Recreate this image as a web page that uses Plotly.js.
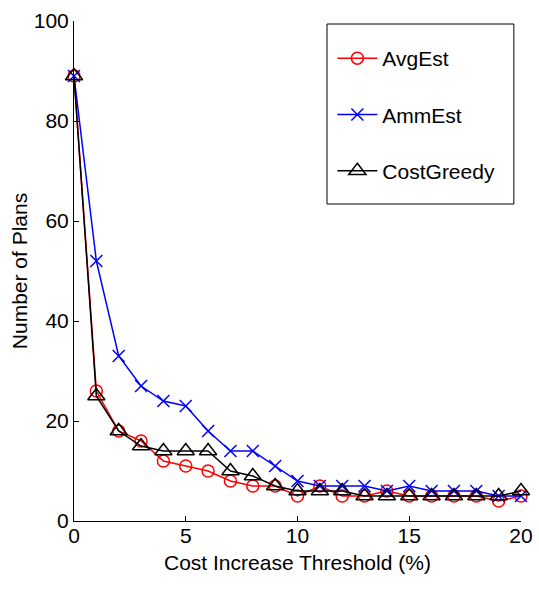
<!DOCTYPE html>
<html>
<head>
<meta charset="utf-8">
<script src="https://cdn.plot.ly/plotly-3.0.1.min.js"></script>
<style>body{margin:0;padding:0;background:#fff;} #chart{width:539px;height:590px;}</style>
</head>
<body>
<div id="chart"></div>
<script>
var thresholds = [0,1,2,3,4,5,6,7,8,9,10,11,12,13,14,15,16,17,18,19,20];
var avgEst     = [89,26,18,16,12,11,10,8,7,7,5,7,5,5,6,5,5,5,5,4,5];
var ammEst     = [89,52,33,27,24,23,18,14,14,11,8,7,7,7,6,7,6,6,6,5,5];
var costGreedy = [89,25,18,15,14,14,14,10,9,7,6,6,6,5,5,5,5,5,5,5,6];
var seriesNames = ['AvgEst','AmmEst','CostGreedy'];
var xTicks = [0,5,10,15,20];
var yTicks = [0,20,40,60,80,100];
var xTitle = 'Cost Increase Threshold (%)';
var yTitle = 'Number of Plans';

var FONT = '"Liberation Sans", Arial, Helvetica, sans-serif';

var traces = [
  {x: thresholds, y: avgEst, name: seriesNames[0], legendgroup: 'a', mode: 'lines+markers', cliponaxis: false,
   line: {color: '#ff0000', width: 1.5},
   marker: {symbol: 'circle-open', size: 12, color: '#ff0000', line: {width: 1.5, color: '#ff0000'}}},
  {x: thresholds, y: ammEst, name: seriesNames[1], legendgroup: 'b', mode: 'lines+markers', cliponaxis: false,
   line: {color: '#0000ff', width: 1.5},
   marker: {symbol: 'x-thin-open', size: 12, color: '#0000ff', line: {width: 1.5, color: '#0000ff'}}},
  {x: thresholds, y: costGreedy, name: seriesNames[2], legendgroup: 'c', mode: 'lines+markers', cliponaxis: false,
   line: {color: '#000000', width: 1.5},
   marker: {symbol: 'triangle-up-open', size: 15, color: '#000000', line: {width: 1.5, color: '#000000'}}}
];

var layout = {
  width: 539, height: 590,
  margin: {l: 74, r: 18, t: 21, b: 69},
  paper_bgcolor: '#fff', plot_bgcolor: '#fff',
  font: {family: FONT, size: 21, color: '#000'},
  showlegend: true,
  legend: {
    x: 0.578, y: 0.966, xanchor: 'left', yanchor: 'top',
    borderwidth: 0, bgcolor: 'rgba(0,0,0,0)',
    traceorder: 'grouped', tracegroupgap: 26, itemwidth: 40,
    font: {family: FONT, size: 21, color: '#000'}
  },
  shapes: [{
    type: 'rect', xref: 'paper', yref: 'paper',
    x0: 0.566, x1: 0.984, y0: 0.634, y1: 0.994,
    line: {color: '#000', width: 1}, fillcolor: '#fff', layer: 'below'
  }],
  annotations: [{
    text: xTitle, xref: 'paper', yref: 'paper', x: 0.5, y: -0.055,
    xanchor: 'center', yanchor: 'top', showarrow: false,
    font: {family: FONT, size: 21, color: '#000'}
  }],
  xaxis: {
    range: [0, 20], tickvals: xTicks, ticktext: xTicks.map(String),
    ticks: 'inside', ticklen: 5, tickcolor: '#000', tickwidth: 1,
    showline: true, linecolor: '#000', linewidth: 1, mirror: false,
    showgrid: false, zeroline: false, ticklabelstandoff: -4,
    tickfont: {family: FONT, size: 21}
  },
  yaxis: {
    range: [0, 100], tickvals: yTicks, ticktext: yTicks.map(String),
    ticks: 'inside', ticklen: 5, tickcolor: '#000', tickwidth: 1,
    showline: true, linecolor: '#000', linewidth: 1, mirror: false,
    showgrid: false, zeroline: false,
    tickfont: {family: FONT, size: 21},
    title: {text: yTitle, font: {family: FONT, size: 21}, standoff: 0}
  }
};

Plotly.newPlot('chart', traces, layout, {displayModeBar: false, staticPlot: true});
</script>
</body>
</html>
